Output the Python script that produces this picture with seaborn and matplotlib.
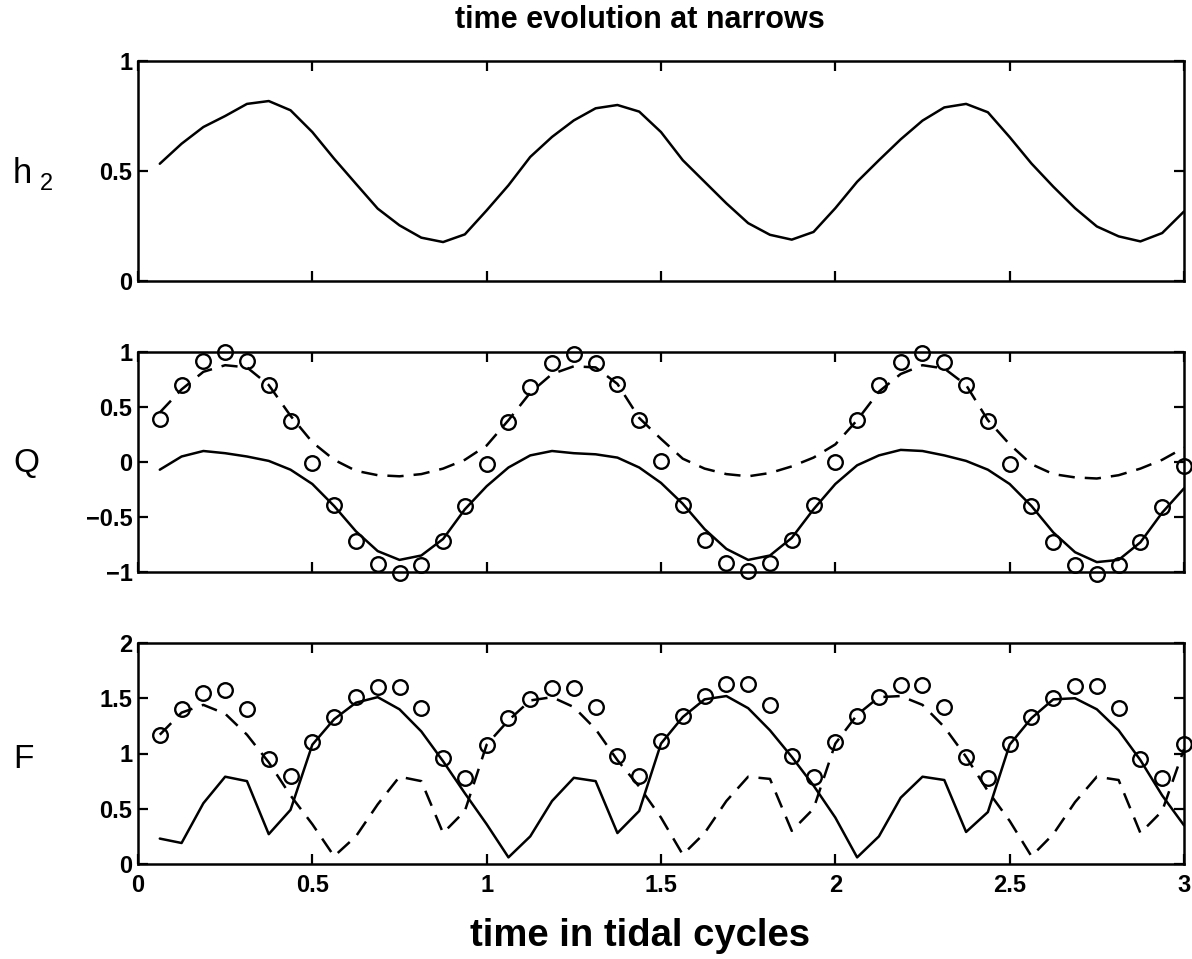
import matplotlib
matplotlib.use("Agg")
import matplotlib.pyplot as plt
import seaborn as sns
import pandas as pd

# ---------------- data ----------------
t = [0.0625, 0.125, 0.1875, 0.25, 0.3125, 0.375, 0.4375, 0.5,
     0.5625, 0.625, 0.6875, 0.75, 0.8125, 0.875, 0.9375, 1.0,
     1.0625, 1.125, 1.1875, 1.25, 1.3125, 1.375, 1.4375, 1.5,
     1.5625, 1.625, 1.6875, 1.75, 1.8125, 1.875, 1.9375, 2.0,
     2.0625, 2.125, 2.1875, 2.25, 2.3125, 2.375, 2.4375, 2.5,
     2.5625, 2.625, 2.6875, 2.75, 2.8125, 2.875, 2.9375, 3.0]

h2 = [0.533, 0.624, 0.700, 0.750, 0.805, 0.818, 0.776, 0.677,
      0.556, 0.442, 0.329, 0.253, 0.197, 0.177, 0.212, 0.321,
      0.435, 0.564, 0.655, 0.730, 0.785, 0.800, 0.770, 0.677,
      0.549, 0.451, 0.353, 0.263, 0.210, 0.188, 0.223, 0.331,
      0.451, 0.549, 0.644, 0.729, 0.789, 0.805, 0.767, 0.654,
      0.534, 0.429, 0.331, 0.248, 0.203, 0.180, 0.218, 0.316]

q_total = [0.39, 0.70, 0.92, 1.00, 0.92, 0.70, 0.37, -0.01,
           -0.39, -0.72, -0.93, -1.01, -0.94, -0.72, -0.40, -0.02,
           0.36, 0.68, 0.90, 0.98, 0.90, 0.71, 0.38, 0.01,
           -0.39, -0.71, -0.92, -0.99, -0.92, -0.71, -0.39, 0.00,
           0.38, 0.70, 0.91, 0.99, 0.91, 0.70, 0.37, -0.02,
           -0.40, -0.73, -0.94, -1.02, -0.94, -0.73, -0.41, -0.04]
q_lower = [-0.07, 0.05, 0.10, 0.08, 0.05, 0.01, -0.07, -0.20,
           -0.40, -0.63, -0.81, -0.89, -0.85, -0.70, -0.43, -0.22,
           -0.05, 0.06, 0.10, 0.08, 0.07, 0.04, -0.05, -0.19,
           -0.38, -0.61, -0.79, -0.89, -0.85, -0.69, -0.43, -0.20,
           -0.03, 0.06, 0.11, 0.10, 0.06, 0.01, -0.07, -0.20,
           -0.40, -0.64, -0.82, -0.91, -0.89, -0.73, -0.46, -0.24]
q_upper = [0.45, 0.66, 0.82, 0.88, 0.86, 0.70, 0.42, 0.18,
           0.02, -0.08, -0.12, -0.13, -0.11, -0.06, 0.02, 0.15,
           0.38, 0.63, 0.80, 0.87, 0.86, 0.71, 0.40, 0.21,
           0.03, -0.06, -0.11, -0.13, -0.10, -0.04, 0.04, 0.16,
           0.38, 0.64, 0.80, 0.88, 0.85, 0.70, 0.38, 0.16,
           -0.02, -0.11, -0.14, -0.15, -0.12, -0.06, 0.02, 0.13]

f_total = [1.17, 1.40, 1.55, 1.575, 1.40, 0.95, 0.80, 1.10,
           1.33, 1.51, 1.605, 1.605, 1.41, 0.96, 0.78, 1.08,
           1.32, 1.49, 1.59, 1.59, 1.42, 0.98, 0.80, 1.11,
           1.34, 1.52, 1.625, 1.625, 1.44, 0.975, 0.79, 1.10,
           1.335, 1.51, 1.62, 1.62, 1.42, 0.97, 0.78, 1.09,
           1.33, 1.50, 1.61, 1.61, 1.41, 0.95, 0.78, 1.085]
f_lower = [0.23, 0.19, 0.55, 0.79, 0.75, 0.27, 0.49, 1.08,
           1.31, 1.46, 1.51, 1.40, 1.20, 0.93, 0.64, 0.36,
           0.06, 0.25, 0.57, 0.78, 0.75, 0.28, 0.48, 1.09,
           1.33, 1.49, 1.52, 1.41, 1.21, 0.97, 0.71, 0.42,
           0.06, 0.25, 0.60, 0.79, 0.76, 0.29, 0.47, 1.08,
           1.32, 1.49, 1.50, 1.40, 1.21, 0.94, 0.62, 0.35]
f_upper = [1.17, 1.37, 1.44, 1.36, 1.17, 0.92, 0.62, 0.36,
           0.07, 0.25, 0.54, 0.79, 0.75, 0.28, 0.48, 1.08,
           1.30, 1.48, 1.51, 1.42, 1.22, 0.94, 0.70, 0.42,
           0.085, 0.28, 0.57, 0.79, 0.77, 0.30, 0.50, 1.09,
           1.35, 1.51, 1.52, 1.44, 1.24, 0.97, 0.66, 0.39,
           0.07, 0.27, 0.56, 0.79, 0.76, 0.28, 0.48, 1.04]

x_ticks = [0, 0.5, 1, 1.5, 2, 2.5, 3]
x_tick_labels = ["0", "0.5", "1", "1.5", "2", "2.5", "3"]
h_ticks = [0, 0.5, 1]
h_tick_labels = ["0", "0.5", "1"]
q_ticks = [-1, -0.5, 0, 0.5, 1]
q_tick_labels = ["\u22121", "\u22120.5", "0", "0.5", "1"]
f_ticks = [0, 0.5, 1, 1.5, 2]
f_tick_labels = ["0", "0.5", "1", "1.5", "2"]

title_text = "time evolution at narrows"
xlabel_text = "time in tidal cycles"

# ---------------- style ----------------
sns.set_style("ticks")
plt.rcParams["font.family"] = ["Liberation Sans", "DejaVu Sans"]
plt.rcParams["text.color"] = "black"
plt.rcParams["xtick.color"] = "black"
plt.rcParams["ytick.color"] = "black"
plt.rcParams["xtick.labelcolor"] = "black"
plt.rcParams["ytick.labelcolor"] = "black"

W, H = 1192, 959
fig = plt.figure(figsize=(W / 100, H / 100), dpi=100)

left = 138 / W
width = 1046 / W
ax_h = fig.add_axes([left, 1 - 281 / H, width, 220 / H])
ax_q = fig.add_axes([left, 1 - 572 / H, width, 220 / H])
ax_f = fig.add_axes([left, 1 - 864 / H, width, 221 / H])

LW = 1.8
DASH = (6.5, 4)

df = pd.DataFrame({"t": t, "h2": h2, "q_total": q_total, "q_lower": q_lower,
                   "q_upper": q_upper, "f_total": f_total, "f_lower": f_lower,
                   "f_upper": f_upper})

def line(ax, col, dashed=False):
    kw = dict(color="black", linewidth=LW)
    if dashed:
        kw["dashes"] = DASH
    sns.lineplot(data=df, x="t", y=col, ax=ax, sort=False, estimator=None, **kw)

def circles(ax, col):
    sns.lineplot(data=df, x="t", y=col, ax=ax, sort=False, estimator=None,
                 linestyle="none", marker="o", markersize=10.5,
                 markerfacecolor="none", markeredgecolor="black",
                 markeredgewidth=1.7, color="black", clip_on=False)

line(ax_h, "h2")

line(ax_q, "q_upper", dashed=True)
line(ax_q, "q_lower")
circles(ax_q, "q_total")

line(ax_f, "f_upper", dashed=True)
line(ax_f, "f_lower")
circles(ax_f, "f_total")

def style(ax, ylim, yt, ytl, show_x):
    ax.set_xlim(0, 3)
    ax.set_ylim(*ylim)
    ax.set_xticks(x_ticks)
    ax.set_yticks(yt)
    ax.set_yticklabels(ytl)
    if show_x:
        ax.set_xticklabels(x_tick_labels)
    else:
        ax.set_xticklabels([])
    ax.set_xlabel("")
    ax.set_ylabel("")
    ax.tick_params(axis="both", direction="in", length=7, width=1.6,
                   top=True, right=True, labelsize=17, colors="black")
    ax.tick_params(axis="y", pad=4)
    ax.tick_params(axis="x", pad=7)
    for lab in ax.get_xticklabels() + ax.get_yticklabels():
        lab.set_fontweight("bold")
        lab.set_color("black")
    for s in ax.spines.values():
        s.set_visible(True)
        s.set_linewidth(1.8)
        s.set_color("black")
    ax.set_facecolor("white")

style(ax_h, (0, 1), h_ticks, h_tick_labels, False)
style(ax_q, (-1, 1), q_ticks, q_tick_labels, False)
style(ax_f, (0, 2), f_ticks, f_tick_labels, True)

# y-axis names
fig.text(13 / W, 1 - 183 / H, "h", fontsize=25, ha="left", va="baseline", color="black")
fig.text(40 / W, 1 - 190 / H, "2", fontsize=17, ha="left", va="baseline", color="black")
fig.text(13 / W, 1 - 472 / H, "Q", fontsize=24, ha="left", va="baseline", color="black")
fig.text(13 / W, 1 - 768 / H, "F", fontsize=24, ha="left", va="baseline", color="black")

fig.text(640 / W, 1 - 28 / H, title_text, fontsize=22, fontweight="bold",
         ha="center", va="baseline", color="black")
fig.text(640 / W, 1 - 946 / H, xlabel_text, fontsize=27.5, fontweight="bold",
         ha="center", va="baseline", color="black")

fig.savefig("out.png", dpi=100, facecolor="white")
